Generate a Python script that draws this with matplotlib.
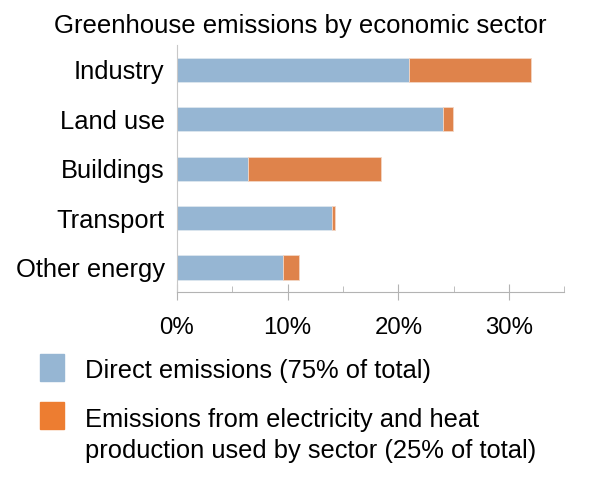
import matplotlib
matplotlib.use('Agg')
from matplotlib import pyplot as plt
from matplotlib.patches import Rectangle
from matplotlib.ticker import MultipleLocator, PercentFormatter

plt.rcParams['font.family'] = ['Liberation Sans', 'DejaVu Sans']

sectors = ['Industry', 'Land use', 'Buildings', 'Transport', 'Other energy']
direct = [21.0, 24.0, 6.4, 14.0, 9.6]
indirect = [11.0, 0.9, 12.0, 0.3, 1.4]
legend_labels = ['Direct emissions (75% of total)',
                 'Emissions from electricity and heat\nproduction used by sector (25% of total)']

blue = '#96b6d3'
orange = '#df834b'
legend_orange = '#ed7d31'

fig = plt.figure(figsize=(6, 4.8), dpi=100)
ax = fig.add_axes([0.295, 0.391, 0.6455, 0.515])

ypos = range(len(sectors))
ax.barh(ypos, direct, height=0.49, color=blue, edgecolor='#dde6ef', linewidth=0.6)
ax.barh(ypos, indirect, left=direct, height=0.49, color=orange,
        edgecolor='#f3d6c4', linewidth=0.6)

ax.set_yticks(list(ypos))
ax.set_yticklabels(sectors, fontsize=18.4)
ax.set_ylim(4.5, -0.5)
ax.set_xlim(0, 35)
ax.xaxis.set_major_locator(MultipleLocator(10))
ax.xaxis.set_minor_locator(MultipleLocator(5))
ax.xaxis.set_major_formatter(PercentFormatter(decimals=0))
ax.tick_params(axis='x', which='major', labelsize=17.3, direction='inout',
               length=11, color='#b3b3b3', pad=12)
ax.tick_params(axis='x', which='minor', direction='in', length=4, color='#b3b3b3')
ax.tick_params(axis='y', length=0, pad=9)

for side in ['top', 'right']:
    ax.spines[side].set_visible(False)
ax.spines['left'].set_color('#c8c8c8')
ax.spines['bottom'].set_color('#b3b3b3')

fig.text(0.5, 1 - 33 / 480, 'Greenhouse emissions by economic sector',
         ha='center', va='baseline', fontsize=18.5)

# legend drawn by hand to match the layout
fig.patches.append(Rectangle((40 / 600, 1 - 381 / 480), 24 / 600, 27 / 480,
                             transform=fig.transFigure, color=blue))
fig.patches.append(Rectangle((40 / 600, 1 - 429 / 480), 24 / 600, 27 / 480,
                             transform=fig.transFigure, color=legend_orange))
baselines = [[378], [427, 458]]
for label, ys in zip(legend_labels, baselines):
    for line, y in zip(label.split('\n'), ys):
        fig.text(85 / 600, 1 - y / 480, line, fontsize=18.4,
                 va='baseline', ha='left')

fig.savefig('out.png', dpi=100)
